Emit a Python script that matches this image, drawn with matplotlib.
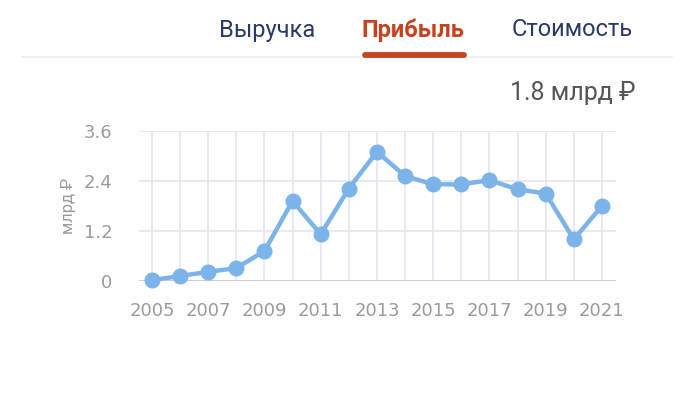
"""Profit chart: tabs header plus yearly line"""
import matplotlib
matplotlib.use("Agg")
from matplotlib import pyplot as plt

years = list(range(2005, 2022))
profit = [0.02, 0.12, 0.22, 0.31, 0.72, 1.92, 1.12, 2.22, 3.1,
          2.52, 2.32, 2.32, 2.42, 2.2, 2.1, 1.0, 1.8]
y_ticks = [0, 1.2, 2.4, 3.6]
y_tick_labels = ["0", "1.2", "2.4", "3.6"]
x_ticks = years[::2]
tabs = ["Выручка", "Прибыль", "Стоимость"]
tab_x = [267, 413, 572]
active_tab = "Прибыль"
last_value = "1.8 млрд ₽"
unit = "млрд ₽"

W, H = 680, 403
plt.rcParams["font.family"] = ["Roboto", "DejaVu Sans"]
fig = plt.figure(figsize=(W / 100, H / 100), dpi=100)


def fx(px):
    return px / W


def fy(py):
    return 1 - py / H


# header tabs
for name, x in zip(tabs, tab_x):
    active = name == active_tab
    fig.text(fx(x), fy(30), name, ha="center", va="center", fontsize=17,
             fontweight="bold" if active else "normal",
             color="#c7431f" if active else "#2b3966")
fig.add_artist(plt.Line2D([fx(22), fx(672)], [fy(57), fy(57)],
                          color="#ececec", lw=1.2))
fig.add_artist(plt.Line2D([fx(365), fx(464)], [fy(54.5), fy(54.5)],
                          color="#c7431f", lw=4.2, solid_capstyle="round"))
fig.text(fx(636), fy(93), last_value, ha="right", va="center", fontsize=18,
         color="#555555")

ax = fig.add_axes([fx(139), fy(281), fx(616 - 139), (281 - 131) / H])
ax.plot(years, profit, color="#7cb4ea", lw=3.2, marker="o", ms=10.5,
        clip_on=False, zorder=3)
ax.set_xlim(2004.54, 2021.5)
ax.set_ylim(0, 3.6)
ax.set_xticks(years)
ax.set_xticklabels([str(y) if y in x_ticks else "" for y in years])
ax.set_yticks(y_ticks)
ax.set_yticklabels(y_tick_labels)
ax.grid(True, color="#e4e5ef", lw=1.2)
ax.set_axisbelow(True)
for s in ax.spines.values():
    s.set_visible(False)
ax.axhline(0, color="#c9cde3", lw=1.4, zorder=1)
ax.tick_params(axis="x", length=0, labelsize=13, labelcolor="#9b9b9b", pad=15)
ax.tick_params(axis="y", length=0, labelsize=13, labelcolor="#9b9b9b", pad=19)
for lbl in ax.get_xticklabels() + ax.get_yticklabels():
    lbl.set_family(["DejaVu Sans"])
ax.set_ylabel(unit, color="#9b9b9b", fontsize=12, labelpad=6)

fig.savefig("out.png", dpi=100)
